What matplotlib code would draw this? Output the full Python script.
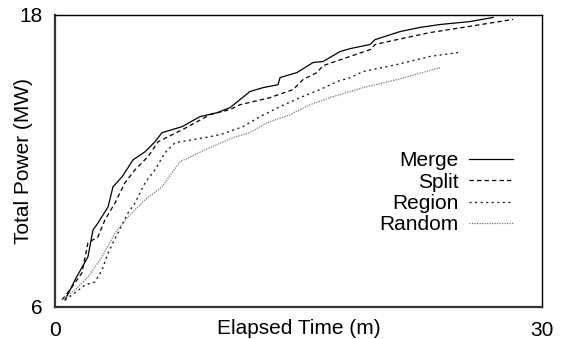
import matplotlib
matplotlib.use("Agg")
import matplotlib.pyplot as plt

plt.rcParams['font.family'] = ['Liberation Sans', 'DejaVu Sans']

# Data (elapsed time in minutes, total power in MW)
merge_t = [0.62, 1.23, 2.03, 2.34, 2.65, 3.27, 3.57, 4.13, 4.81, 5.55, 6.16, 6.59, 7.83, 8.93,
           9.98, 10.78, 11.40, 12.01, 12.82, 13.74, 13.86, 14.91, 15.90, 16.51, 17.56, 18.18,
           19.41, 19.72, 21.26, 22.49, 23.72, 25.57, 26.99]
merge_p = [6.29, 7.11, 8.06, 9.16, 9.45, 10.11, 10.93, 11.34, 12.04, 12.37, 12.78, 13.15, 13.40, 13.81,
           13.97, 14.18, 14.51, 14.84, 15.00, 15.12, 15.41, 15.62, 16.03, 16.07, 16.48, 16.60,
           16.77, 16.97, 17.30, 17.47, 17.59, 17.71, 17.88]

split_t = [0.43, 1.05, 1.66, 2.03, 2.65, 3.08, 3.70, 4.31, 4.93, 5.73, 6.35, 7.83, 9.55, 10.78,
           11.40, 13.25, 14.66, 15.28, 16.14, 16.51, 18.18, 19.41, 19.72, 21.07, 23.11, 25.14, 28.22]
split_p = [6.29, 6.82, 7.40, 8.63, 8.88, 9.58, 10.27, 11.10, 11.63, 12.17, 12.78, 13.27, 13.89, 14.10,
           14.30, 14.59, 14.92, 15.33, 15.62, 15.90, 16.28, 16.56, 16.77, 16.97, 17.26, 17.47, 17.80]

region_t = [0.62, 1.23, 1.85, 2.46, 2.90, 3.27, 3.88, 4.50, 4.93, 5.55, 6.16, 6.78, 7.39, 8.44,
            9.24, 10.17, 11.58, 12.63, 13.86, 15.10, 16.33, 17.38, 18.18, 18.98, 21.07, 23.11, 24.83]
region_p = [6.29, 6.58, 6.90, 7.03, 7.52, 8.22, 9.04, 9.86, 10.27, 11.10, 11.63, 12.33, 12.74, 12.86,
            12.95, 13.07, 13.40, 13.81, 14.22, 14.59, 14.92, 15.25, 15.41, 15.66, 15.95, 16.28, 16.44]

random_t = [0.43, 1.23, 2.03, 2.90, 3.70, 4.50, 5.55, 6.59, 7.21, 7.70, 8.63, 9.24, 9.98, 10.97,
            12.01, 13.06, 14.48, 15.71, 16.94, 18.98, 21.07, 23.72]
random_p = [6.29, 6.70, 7.23, 8.06, 9.04, 9.70, 10.40, 10.93, 11.51, 11.96, 12.25, 12.45, 12.66, 12.95,
            13.15, 13.56, 13.89, 14.30, 14.59, 15.00, 15.33, 15.82]

x_ticks = [0, 30]
y_ticks = [6, 18]

fig = plt.figure(figsize=(5.64, 3.39), dpi=100)
ax = fig.add_axes([55 / 564, 1 - 307 / 339, (542 - 55) / 564, (307 - 14.5) / 339])

ax.plot(merge_t, merge_p, color='black', lw=0.9, ls='-', label='Merge')
ax.plot(split_t, split_p, color='black', lw=0.9, ls=(0, (3.5, 2.5)), label='Split')
ax.plot(region_t, region_p, color='#222222', lw=1.0, ls=(0, (1.5, 2.5)), label='Region')
ax.plot(random_t, random_p, color='#777777', lw=0.9, ls=(0, (1, 1)), label='Random')

ax.set_xlim(0, 30)
ax.set_ylim(6, 18)
ax.set_xticks(x_ticks)
ax.set_yticks(y_ticks)
ax.set_xticklabels([str(v) for v in x_ticks])
ax.set_yticklabels([str(v) for v in y_ticks])
ax.tick_params(length=0, labelsize=15)
ax.tick_params(axis='y', pad=9)
ax.tick_params(axis='x', pad=10)

for side in ['top', 'right']:
    ax.spines[side].set_linewidth(1.0)
    ax.spines[side].set_color('black')
for side in ['left', 'bottom']:
    ax.spines[side].set_linewidth(1.6)
    ax.spines[side].set_color('#333333')

ax.set_xlabel('Elapsed Time (m)', fontsize=15, va='center')
ax.xaxis.set_label_coords(0.5, (307 - 328.5) / 292.5)
ax.set_ylabel('Total Power (MW)', fontsize=15, va='center')
ax.yaxis.set_label_coords((24 - 55) / 487, 0.5)

leg = ax.legend(loc='upper right', bbox_to_anchor=((513 - 55) / 487, (307 - 151) / 292.5),
                frameon=False, markerfirst=False, fontsize=15, handlelength=2.1,
                handletextpad=0.5, labelspacing=0.12, borderpad=0, borderaxespad=0)
for t in leg.get_texts():
    t.set_ha('right')

fig.savefig('out.png', dpi=100)
